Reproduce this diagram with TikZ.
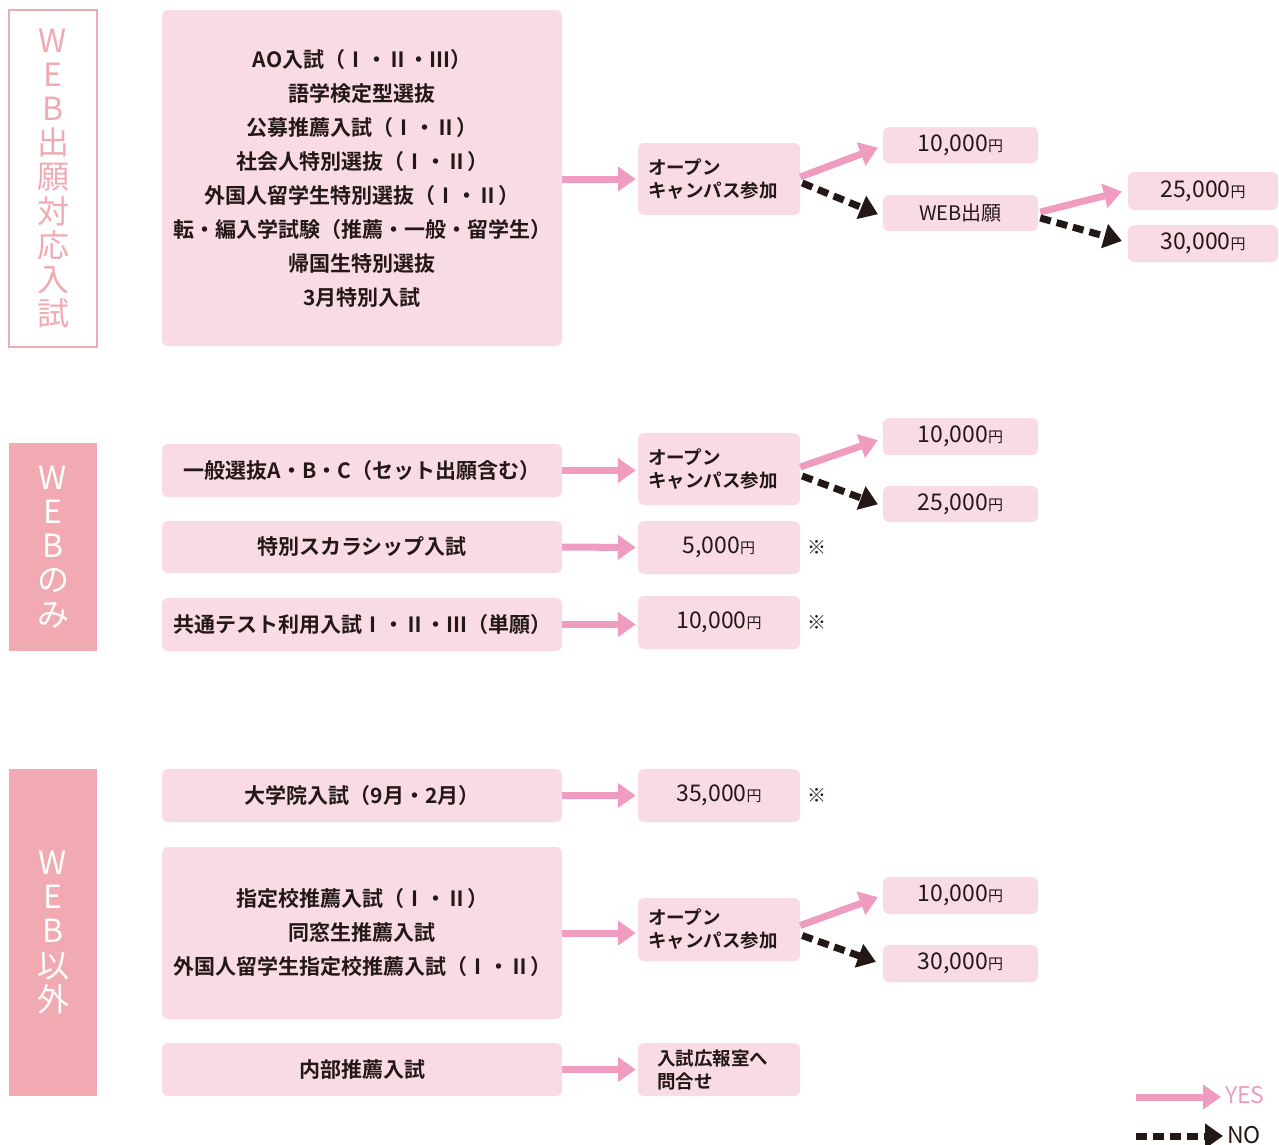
\documentclass[tikz,border=0pt]{standalone}
\usepackage{fontspec}
\setmainfont{Noto Sans CJK JP}[BoldFont={Noto Sans CJK JP Bold}]
\usetikzlibrary{arrows.meta,calc,positioning}
\definecolor{boxpk}{RGB}{249,219,229}
\definecolor{sidepk}{RGB}{241,170,177}
\definecolor{arrpk}{RGB}{240,156,192}
\definecolor{inkdk}{RGB}{35,24,21}
\newcommand{\amt}[1]{{\fontsize{23}{23}\selectfont #1}{\fontsize{15}{15}\selectfont 円}}
\tikzset{
	entry/.style={fill=boxpk, rounded corners=6pt, inner sep=0pt, align=center, text=inkdk,
		font=\fontsize{21}{34}\selectfont\bfseries},
	price/.style={entry, font=\mdseries},
	visit/.style={entry, align=left, text width=142pt, inner xsep=10pt,
		font=\fontsize{18.5}{23}\selectfont\bfseries},
	side/.style={inner sep=0pt, align=center, minimum width=88pt,
		font=\fontsize{32}{34.2}\selectfont},
	note/.style={inner sep=0pt, text=inkdk, font=\fontsize{19}{19}\selectfont},
	yes/.style={draw=arrpk, line width=7pt, -{Triangle[length=18pt,width=24pt]}, shorten >=2pt},
	no/.style={draw=inkdk, line width=7pt, dash pattern=on 11pt off 6pt,
		-{Triangle[length=18pt,width=24pt]}, shorten >=2pt},
}
\begin{document}
\begin{tikzpicture}[x=1pt,y=-1pt]
	\useasboundingbox (0,0) rectangle (1279,1144);
	%
	\node[side, draw=sidepk, line width=2.5pt, fill=white, text=sidepk, minimum height=337pt] (s1) at (53,178.5)
		{W\\E\\B\\出\\願\\対\\応\\入\\試};
	\node[side, fill=sidepk, text=white, minimum height=208pt] (s2) at (53,547) {W\\E\\B\\の\\み};
	\node[side, fill=sidepk, text=white, minimum height=327pt] (s3) at (53,932.5) {W\\E\\B\\以\\外};
	%
	\node[entry, minimum width=400pt, minimum height=336pt] (a1) at (362,178)
		{AO入試（Ⅰ・Ⅱ・Ⅲ）\\語学検定型選抜\\公募推薦入試（Ⅰ・Ⅱ）\\社会人特別選抜（Ⅰ・Ⅱ）\\
		外国人留学生特別選抜（Ⅰ・Ⅱ）\\転・編入学試験（推薦・一般・留学生）\\帰国生特別選抜\\3月特別入試};
	\node[visit, minimum height=72pt] (o1) at (719,179) {オープン\\キャンパス参加};
	\node[price, minimum width=155pt, minimum height=36pt] (p1) at (960.5,145) {\amt{10,000}};
	\node[price, minimum width=155pt, minimum height=36pt, font=\fontsize{20}{20}\selectfont] (w1) at (960.5,213) {WEB出願};
	\node[price, minimum width=150pt, minimum height=38pt] (p2) at (1203,191) {\amt{25,000}};
	\node[price, minimum width=150pt, minimum height=37pt] (p3) at (1203,243.5) {\amt{30,000}};
	%
	\node[entry, minimum width=400pt, minimum height=53pt] (b1) at (362,470.5) {一般選抜A・B・C（セット出願含む）};
	\node[visit, minimum height=72pt] (o2) at (719,469) {オープン\\キャンパス参加};
	\node[price, minimum width=155pt, minimum height=37pt] (p4) at (960.5,436.5) {\amt{10,000}};
	\node[price, minimum width=155pt, minimum height=36pt] (p5) at (960.5,504) {\amt{25,000}};
	\node[entry, minimum width=400pt, minimum height=52pt] (b2) at (362,547) {特別スカラシップ入試};
	\node[price, minimum width=162pt, minimum height=53pt] (p6) at (719,547.5) {\amt{5,000}};
	\node[note, right=7pt of p6] (n1) {※};
	\node[entry, minimum width=400pt, minimum height=53pt] (b3) at (362,624.5) {共通テスト利用入試Ⅰ・Ⅱ・Ⅲ（単願）};
	\node[price, minimum width=162pt, minimum height=53pt] (p7) at (719,622.5) {\amt{10,000}};
	\node[note, right=7pt of p7] (n2) {※};
	%
	\node[entry, minimum width=400pt, minimum height=53pt] (c1) at (362,795.5) {大学院入試（9月・2月）};
	\node[price, minimum width=162pt, minimum height=53pt] (p8) at (719,795.5) {\amt{35,000}};
	\node[note, right=7pt of p8] (n3) {※};
	\node[entry, minimum width=400pt, minimum height=172pt] (c2) at (362,933)
		{指定校推薦入試（Ⅰ・Ⅱ）\\同窓生推薦入試\\外国人留学生指定校推薦入試（Ⅰ・Ⅱ）};
	\node[visit, minimum height=63pt] (o3) at (719,929.5) {オープン\\キャンパス参加};
	\node[price, minimum width=155pt, minimum height=37pt] (p9) at (960.5,895.5) {\amt{10,000}};
	\node[price, minimum width=155pt, minimum height=37pt] (p10) at (960.5,963.5) {\amt{30,000}};
	\node[entry, minimum width=400pt, minimum height=53pt] (c3) at (362,1069.5) {内部推薦入試};
	\node[visit, text width=124pt, inner xsep=19pt, minimum height=53pt] (q1) at (719,1069.5) {入試広報室へ\\問合せ};
	%
	\coordinate (ky) at (1136,1097);
	\coordinate (kn) at (1136,1136);
	\node[anchor=west, inner sep=0pt, text=arrpk, font=\fontsize{23}{23}\selectfont] (yes) at (1225,1095) {YES};
	\node[anchor=west, inner sep=0pt, text=inkdk, font=\fontsize{23}{23}\selectfont] (no) at (1227,1135) {NO};
	%
	\draw[yes] (a1.east |- o1) -- (o1.west);
	\draw[yes] ($(o1.east)+(0,-2)$) -- ($(p1.west)+(-3,2)$);
	\draw[no] ($(o1.east)+(2,4)$) -- ($(w1.west)+(-3,2)$);
	\draw[yes] ($(w1.east)+(2,-1)$) -- ($(p2.west)+(-4,0)$);
	\draw[no] ($(w1.east)+(2,5)$) -- ($(p3.west)+(-4,-2)$);
	\draw[yes] (b1.east) -- (b1.east -| o2.west);
	\draw[yes] ($(o2.east)+(0,-2)$) -- ($(p4.west)+(-3,3)$);
	\draw[no] ($(o2.east)+(2,7)$) -- ($(p5.west)+(-3,1)$);
	\draw[yes] (b2.east) -- (p6.west);
	\draw[yes] (b3.east) -- (b3.east -| p7.west);
	\draw[yes] (c1.east) -- (p8.west);
	\draw[yes] (c2.east) -- (c2.east -| o3.west);
	\draw[yes] ($(o3.east)+(0,-4)$) -- ($(p9.west)+(-3,1)$);
	\draw[no] ($(o3.east)+(2,6)$) -- ($(p10.west)+(-5,-1)$);
	\draw[yes] (c3.east) -- (q1.west);
	\draw[yes, shorten >=4pt] (ky) -- (ky -| yes.west);
	\draw[no, shorten >=4pt] (kn) -- (kn -| no.west);
\end{tikzpicture}
\end{document}
